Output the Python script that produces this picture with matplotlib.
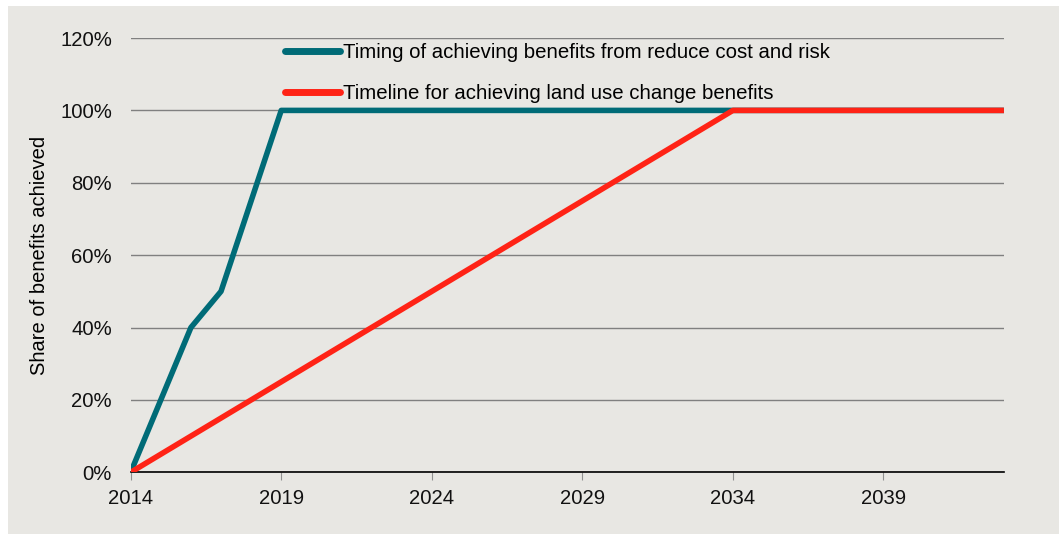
import matplotlib
matplotlib.use('Agg')
import matplotlib.pyplot as plt
from matplotlib.patches import Rectangle
from matplotlib.ticker import FuncFormatter

# Data
years = list(range(2014, 2044))
cost_risk = [0, 20, 40, 50, 75] + [100] * 25
land_use = [5 * i for i in range(21)] + [100] * 9
label_cost = 'Timing of achieving benefits from reduce cost and risk'
label_land = 'Timeline for achieving land use change benefits'
tick_years = [2014, 2019, 2024, 2029, 2034, 2039]

bg = '#e8e7e3'
teal = '#006b77'
red = '#ff2316'
font = 'Liberation Sans'

fig = plt.figure(figsize=(10.59, 5.34), dpi=100)
fig.patch.set_facecolor('white')
fig.patches.append(Rectangle((8 / 1059, 0), 1, 528 / 534, transform=fig.transFigure,
                             facecolor=bg, edgecolor='none', zorder=-10))

ax = fig.add_axes([0.1234, 0.1155, 0.8246, 0.8133])
ax.set_facecolor(bg)

ax.plot(years, cost_risk, color=teal, lw=4, solid_capstyle='butt', zorder=3, label=label_cost)
ax.plot(years, land_use, color=red, lw=4, solid_capstyle='butt', zorder=3, label=label_land)

ax.set_xlim(2014, 2043)
ax.set_ylim(0, 120)
ax.set_yticks(range(0, 121, 20))
ax.yaxis.set_major_formatter(FuncFormatter(lambda v, p: f'{int(v)}%'))
ax.set_xticks(tick_years)
ax.grid(axis='y', color='#808080', lw=1)
ax.set_axisbelow(True)

for s in ['top', 'right', 'left']:
    ax.spines[s].set_visible(False)
ax.spines['bottom'].set_color('black')
ax.spines['bottom'].set_linewidth(1.2)
ax.tick_params(axis='y', length=0, pad=13.5)
ax.tick_params(axis='x', length=6, color='#909090', direction='out', pad=6)
for t in ax.get_xticklabels() + ax.get_yticklabels():
    t.set_family(font)
    t.set_fontsize(14.6)
    t.set_color('#111111')

ax.set_ylabel('Share of benefits achieved', fontsize=14.5, family=font, labelpad=8)

leg = ax.legend(loc='upper left', bbox_to_anchor=(0.156, 1.03), frameon=False,
                prop={'family': font, 'size': 14.7}, handlelength=2.7,
                handletextpad=0.15, labelspacing=1.05)
for h in leg.get_lines():
    h.set_linewidth(5)
    h.set_solid_capstyle('round')

fig.savefig('out.png', dpi=100, facecolor=fig.get_facecolor())
